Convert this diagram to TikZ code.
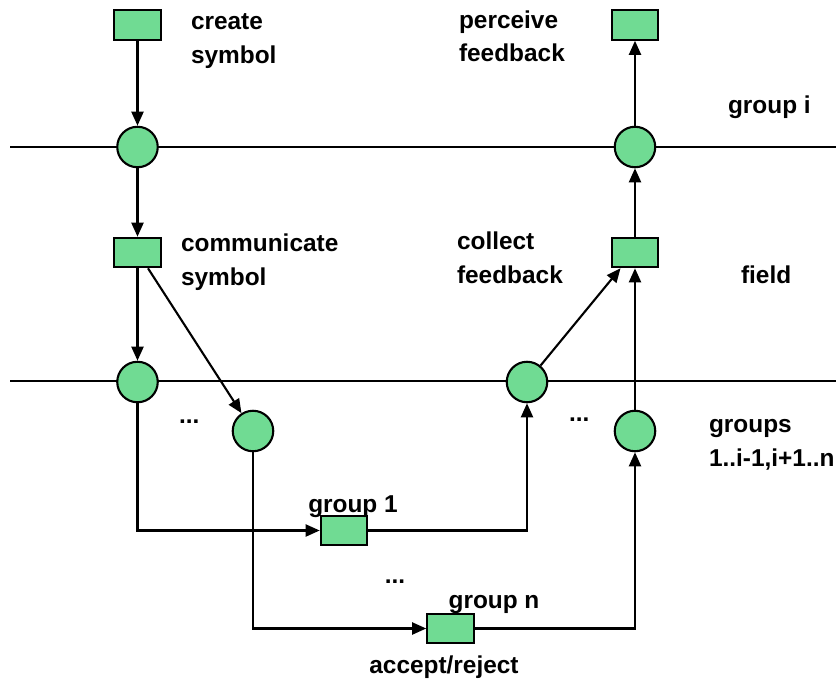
\documentclass[tikz,border=0pt]{standalone}
\usepackage{fontspec}
\setmainfont{Liberation Sans}
\usetikzlibrary{arrows.meta,calc}
\definecolor{nodegreen}{RGB}{112,219,147}
\begin{document}
\begin{tikzpicture}[x=1pt,y=-1pt,
  line width=2.1pt,
  box/.style={draw, fill=nodegreen, minimum width=46.5pt, minimum height=29.5pt, inner sep=0pt},
  port/.style={draw, fill=nodegreen, circle, minimum size=40.5pt, inner sep=0pt},
  lbl/.style={inner sep=0pt, anchor=base west, align=left,
    font=\fontsize{24.4}{33.5}\selectfont\bfseries},
  clbl/.style={inner sep=0pt, anchor=base, font=\fontsize{24.4}{33.5}\selectfont\bfseries},
  flow/.style={-{Triangle[length=14pt,width=12pt]}}]
\useasboundingbox (0,0) rectangle (836,681);

% layer boundaries
\coordinate (b1w) at (10,147);  \coordinate (b1e) at (836,147);
\coordinate (b2w) at (10,381);  \coordinate (b2e) at (836,381);
\draw (b1w) -- (b1e);
\draw (b2w) -- (b2e);

% group i
\node[box]  (create)  at (137.5,25)    {};
\node[box]  (perceive) at (635,25)     {};
\node[port] (c1)      at (137.5,147)   {};
\node[port] (c2)      at (635,147)     {};
% field
\node[box]  (comm)    at (137.5,252.5) {};
\node[box]  (collect) at (635,252.5)   {};
% other groups
\node[port] (c3)      at (137.5,382)   {};
\node[port] (c4)      at (527,382)     {};
\node[port] (c5)      at (253,431)     {};
\node[port] (c6)      at (635,431)     {};
\node[box]  (g1)      at (344,530.5)   {};
\node[box]  (gn)      at (450.5,628.5) {};

% flows
\draw[flow] (create) -- (c1);
\draw[flow] (c1) -- (comm);
\draw[flow] (comm) -- (c3);
\coordinate (commout) at ($(comm.south)+(10.5,0)$);
\draw[flow] (commout) -- (c5);
\draw[flow] (c3) |- (g1);
\draw[flow] (c5) |- (gn);
\draw[flow] (g1) -| (c4);
\draw[flow] (gn) -| (c6);
\coordinate (collectin) at ($(collect.south)+(-14.5,0)$);
\draw[flow] (c4) -- (collectin);
\draw[flow] (c6) -- (collect);
\draw[flow] (collect) -- (c2);
\draw[flow] (c2) -- (perceive);

% labels (multi-line labels are anchored at the baseline of their last line)
\node[lbl] (tcreate)   at (190,63.3)  {create\\symbol};
\node[lbl] (tperceive) at (458,61.8)  {perceive\\feedback};
\node[lbl] (tgroupi)   at (727,113)   {group i};
\node[lbl] (tcomm)     at (180,285)   {communicate\\symbol};
\node[lbl] (tcollect)  at (456,283.3) {collect\\feedback};
\node[lbl] (tfield)    at (740,283)   {field};
\node[lbl] (tdotsl)    at (178,423)   {...};
\node[lbl] (tdotsr)    at (568,421)   {...};
\node[lbl] (tgroups)   at (708,466)   {groups\\1..i-1,i+1..n};
\node[clbl] (tg1)      at (353,512)   {group 1};
\node[clbl] (tdotsm)   at (395,583)   {...};
\node[clbl] (tgn)      at (494,608.5) {group n};
\node[clbl] (tacc)     at (444,673)   {accept/reject};
\end{tikzpicture}
\end{document}
